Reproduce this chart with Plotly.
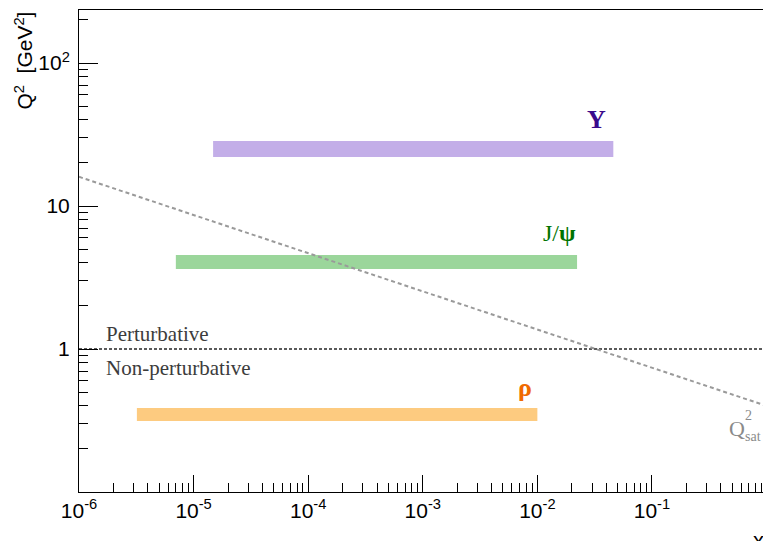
import numpy as np
import plotly.graph_objects as go

# ---- data ----
mesons = ["Υ", "J/ψ", "ρ"]
x_min = [1.48e-5, 7.0e-6, 3.2e-6]
x_max = [0.046, 0.0222, 0.0100]
q2_low = [22.0, 3.62, 0.314]
q2_high = [28.5, 4.54, 0.386]
band_colors = ["#c3aee8", "#9bd69b", "#fdcb80"]

qsat_x = [1e-6, 1.0]
qsat_q2 = [16.0, 0.40]

pert_x = [1e-6, 1.0]
pert_q2 = [1.0, 1.0]

x_tick_vals = [1e-6, 1e-5, 1e-4, 1e-3, 1e-2, 1e-1]
x_tick_text = ["10<sup>-6</sup>", "10<sup>-5</sup>", "10<sup>-4</sup>",
               "10<sup>-3</sup>", "10<sup>-2</sup>", "10<sup>-1</sup>"]
y_tick_vals = [1, 10, 100]
y_tick_text = ["1", "10", "10<sup>2</sup>"]

fig = go.Figure()

for i in range(len(mesons)):
    fig.add_trace(go.Scatter(
        x=[x_min[i], x_max[i], x_max[i], x_min[i], x_min[i]],
        y=[q2_low[i], q2_low[i], q2_high[i], q2_high[i], q2_low[i]],
        mode="lines", fill="toself", fillcolor=band_colors[i],
        line=dict(width=0, color=band_colors[i]), hoverinfo="skip",
        showlegend=False))

fig.add_trace(go.Scatter(x=pert_x, y=pert_q2, mode="lines",
                         line=dict(color="#5a5a5a", width=2, dash="3px,2px"),
                         showlegend=False))
fig.add_trace(go.Scatter(x=qsat_x, y=qsat_q2, mode="lines",
                         line=dict(color="#9a9a9a", width=2, dash="4px,3px"),
                         showlegend=False))

sans = "Liberation Sans, Arial, sans-serif"
serif = "Liberation Serif, Times New Roman, serif"

# meson labels
fig.add_annotation(x=np.log10(0.0325), y=np.log10(40.0), text="<b>Υ</b>",
                   showarrow=False, font=dict(family=serif, size=26, color="#3a0a8c"))
fig.add_annotation(x=np.log10(0.0157), y=np.log10(6.45),
                   text="J/<b>ψ</b>", showarrow=False,
                   font=dict(family=serif, size=24, color="#007300"))
fig.add_annotation(x=np.log10(0.0078), y=np.log10(0.54), text="<b>ρ</b>",
                   showarrow=False, font=dict(family=serif, size=26, color="#f06a00"))

fig.add_annotation(x=np.log10(1.65e-6), y=np.log10(1.27), text="Perturbative",
                   xanchor="left", showarrow=False,
                   font=dict(family=serif, size=21, color="#3c3c3c"))
fig.add_annotation(x=np.log10(1.65e-6), y=np.log10(0.736), text="Non-perturbative",
                   xanchor="left", showarrow=False,
                   font=dict(family=serif, size=21, color="#3c3c3c"))

# Q^2_sat label
fig.add_annotation(x=np.log10(0.455), y=np.log10(0.28), text="Q",
                   xanchor="left", showarrow=False,
                   font=dict(family=serif, size=22, color="#8a8a8a"))
fig.add_annotation(x=np.log10(0.625), y=np.log10(0.345), text="2",
                   xanchor="left", showarrow=False,
                   font=dict(family=serif, size=14, color="#8a8a8a"))
fig.add_annotation(x=np.log10(0.625), y=np.log10(0.245), text="sat",
                   xanchor="left", showarrow=False,
                   font=dict(family=serif, size=14, color="#8a8a8a"))

# axis titles
fig.add_annotation(xref="paper", yref="paper", x=-0.081, y=1.0,
                   text="Q<sup>2</sup>  [GeV<sup>2</sup>]", textangle=-90,
                   xanchor="center", yanchor="top", showarrow=False,
                   font=dict(family=sans, size=21, color="black"))
fig.add_annotation(xref="paper", yref="paper", x=0.983, y=-0.07,
                   text="x", xanchor="left", yanchor="top", showarrow=False,
                   font=dict(family=sans, size=22, color="black"))

fig.update_xaxes(type="log", range=[-6, -0.031],
                 tickvals=x_tick_vals, ticktext=x_tick_text,
                 ticks="inside", ticklen=17, tickwidth=1, tickcolor="black",
                 minor=dict(dtick="D1", ticks="inside", ticklen=9,
                            tickwidth=1, tickcolor="black", showgrid=False),
                 showline=True, linecolor="black", linewidth=1, mirror=True,
                 showgrid=False, zeroline=False,
                 tickfont=dict(family=sans, size=21, color="black"))
fig.update_yaxes(type="log", range=[-1, 2.3706],
                 tickvals=y_tick_vals, ticktext=y_tick_text,
                 ticks="inside", ticklen=19, tickwidth=1, tickcolor="black",
                 minor=dict(dtick="D1", ticks="inside", ticklen=9,
                            tickwidth=1, tickcolor="black", showgrid=False),
                 showline=True, linecolor="black", linewidth=1,
                 showgrid=False, zeroline=False, ticklabelstandoff=4,
                 tickfont=dict(family=sans, size=21, color="black"))

fig.update_layout(width=763, height=541,
                  margin=dict(l=79, r=0, t=10, b=49),
                  plot_bgcolor="white", paper_bgcolor="white",
                  showlegend=False)

fig.write_html("out.html", config={"displayModeBar": False},
               post_script="document.body.style.margin='0';"
                           "document.body.style.overflow='hidden';")
